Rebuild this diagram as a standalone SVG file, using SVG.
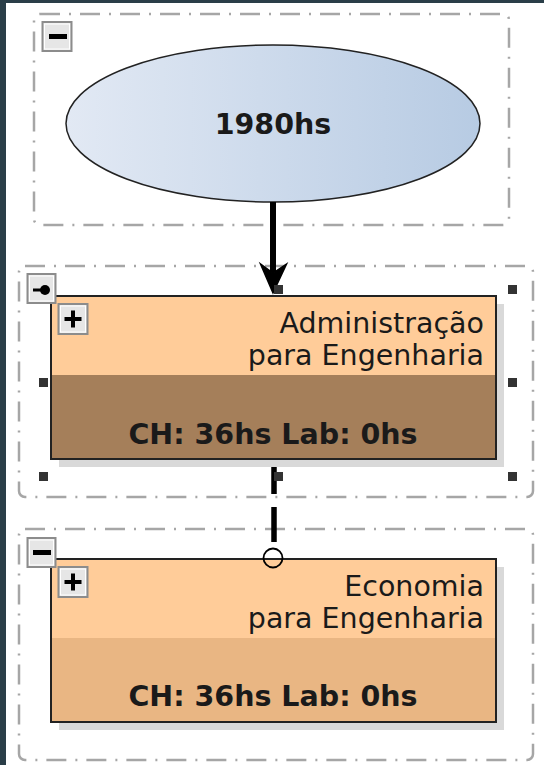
<svg xmlns="http://www.w3.org/2000/svg" width="544" height="765" viewBox="0 0 544 765">
<defs>
<linearGradient id="ell" x1="0" y1="0" x2="1" y2="0">
<stop offset="0" stop-color="#e2e9f4"/>
<stop offset="1" stop-color="#b7cbe3"/>
</linearGradient>
<marker id="arr" markerUnits="userSpaceOnUse" markerWidth="30" markerHeight="30" refX="13" refY="27" orient="auto-start-reverse" viewBox="0 0 26 28">
</marker>
</defs>
<style>
.frame{fill:none;stroke:#a6a6a6;stroke-width:2.5;stroke-dasharray:20 9 2 9;}
.btn{fill:#e6e6e6;stroke:#8c8c8c;stroke-width:2;}
.btnin{fill:none;stroke:#ffffff;stroke-width:1;}
.node{stroke:#222;stroke-width:2;}
.shadow{fill:#d9d9d9;}
.hdr{fill:#ffcc99;}
.t{font-family:"DejaVu Sans",sans-serif;font-size:28.5px;fill:#1a1a1a;}
.b{font-family:"DejaVu Sans",sans-serif;font-size:28.5px;font-weight:bold;fill:#1a1a1a;}
.h{fill:#333;}
</style>
<rect x="0" y="0" width="544" height="765" fill="#2a3e48"/>
<rect x="6" y="3" width="538" height="762" fill="#ffffff"/>

<g id="frame1">
<rect class="frame" x="34" y="14" width="475" height="211" rx="6"/>
<rect class="btn" x="42.5" y="22" width="29" height="29"/>
<rect class="btnin" x="44.5" y="24" width="25" height="25"/>
<rect x="49" y="34" width="18" height="5" fill="#000"/>
</g>

<g id="frame2">
<rect class="frame" x="19" y="266" width="514" height="231" rx="6"/>
</g>

<g id="frame3">
<rect class="frame" x="19" y="529" width="514" height="231" rx="6"/>
</g>

<g id="node-1980hs">
<ellipse cx="273" cy="123.5" rx="207" ry="78.5" fill="url(#ell)" stroke="#222" stroke-width="1.5"/>
<text class="b" x="273" y="134" text-anchor="middle">1980hs</text>
</g>

<g id="connectors">
<line x1="273" y1="202" x2="273" y2="272" stroke="#000" stroke-width="6"/>
<path d="M273,293 L260.5,264 L273,273 L286.5,264 Z" fill="#000" stroke="#000" stroke-width="1.5" stroke-linejoin="miter"/>
<line x1="274" y1="459" x2="274" y2="548" stroke="#000" stroke-width="5.5" stroke-dasharray="35 13"/>
</g>

<g id="node-admin">
<rect class="shadow" x="59" y="304" width="445" height="163"/>
<rect x="51" y="296" width="445" height="163" fill="#a57f5a"/>
<rect class="hdr" x="51" y="296" width="445" height="79"/>
<rect class="node" x="51" y="296" width="445" height="163" fill="none"/>
<rect class="btn" x="58.5" y="304" width="29" height="30"/>
<rect class="btnin" x="60.5" y="306" width="25" height="26"/>
<path d="M64.5,319 H81.5 M73,310.5 V327.5" stroke="#000" stroke-width="4"/>
<text class="t" x="484" y="333" text-anchor="end">Administração</text>
<text class="t" x="484" y="365" text-anchor="end">para Engenharia</text>
<text class="b" x="273" y="444" text-anchor="middle">CH: 36hs Lab: 0hs</text>
<rect class="btn" x="27.5" y="274" width="28" height="29"/>
<rect class="btnin" x="29.5" y="276" width="24" height="25"/>
<path d="M33,290 H41" stroke="#000" stroke-width="3"/>
<circle cx="45" cy="290" r="5" fill="#000"/>
<rect class="h" x="39" y="378" width="9" height="9"/>
<rect class="h" x="39" y="472" width="9" height="9"/>
<rect class="h" x="274" y="472" width="9" height="9"/>
<rect class="h" x="274" y="285" width="9" height="9"/>
<rect class="h" x="508" y="285" width="9" height="9"/>
<rect class="h" x="508" y="378" width="9" height="9"/>
<rect class="h" x="508" y="472" width="9" height="9"/>
</g>

<g id="node-econ">
<rect class="shadow" x="59" y="567" width="445" height="163"/>
<rect x="51" y="559" width="445" height="163" fill="#e9b683"/>
<rect class="hdr" x="51" y="559" width="445" height="79"/>
<rect class="node" x="51" y="559" width="445" height="163" fill="none"/>
<rect class="btn" x="58.5" y="567" width="29" height="30"/>
<rect class="btnin" x="60.5" y="569" width="25" height="26"/>
<path d="M64.5,582 H81.5 M73,573.5 V590.5" stroke="#000" stroke-width="4"/>
<text class="t" x="484" y="596" text-anchor="end">Economia</text>
<text class="t" x="484" y="628" text-anchor="end">para Engenharia</text>
<text class="b" x="273" y="706" text-anchor="middle">CH: 36hs Lab: 0hs</text>
<rect class="btn" x="27.5" y="538" width="28" height="29"/>
<rect class="btnin" x="29.5" y="540" width="24" height="25"/>
<rect x="33" y="550" width="18" height="5" fill="#000"/>
</g>

<g id="connector-end">
<circle cx="273" cy="558" r="9.5" fill="none" stroke="#000" stroke-width="1.8"/>
</g>
</svg>
